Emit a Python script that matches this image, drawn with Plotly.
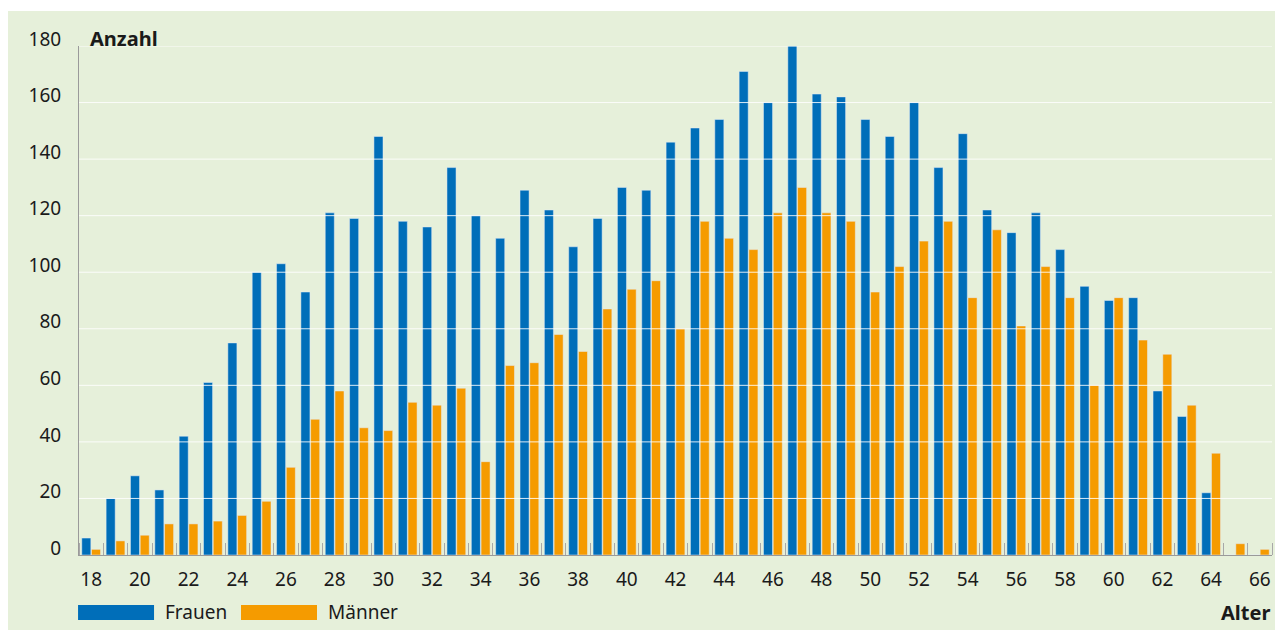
import plotly.graph_objects as go

ages = list(range(18, 67))
frauen = [6, 20, 28, 23, 42, 61, 75, 100, 103, 93, 121, 119, 148, 118, 116, 137, 120,
          112, 129, 122, 109, 119, 130, 129, 146, 151, 154, 171, 160, 180, 163, 162,
          154, 148, 160, 137, 149, 122, 114, 121, 108, 95, 90, 91, 58, 49, 22, 0, 0]
maenner = [2, 5, 7, 11, 11, 12, 14, 19, 31, 48, 58, 45, 44, 54, 53, 59, 33,
           67, 68, 78, 72, 87, 94, 97, 80, 118, 112, 108, 121, 130, 121, 118,
           93, 102, 111, 118, 91, 115, 81, 102, 91, 60, 91, 76, 71, 53, 36, 4, 2]
x_ticks = list(range(18, 67, 2))
y_ticks = list(range(0, 181, 20))

BLUE = "#006EB9"
ORANGE = "#F59B00"
PANEL = "#E6F0DA"
TXT = "#1a1a1a"
FONT = "Noto Sans"

fig = go.Figure()
fig.add_trace(go.Bar(x=ages, y=frauen, name="Frauen", marker_color=BLUE))
fig.add_trace(go.Bar(x=ages, y=maenner, name="Männer", marker_color=ORANGE))

# white grid lines drawn over the bars
for v in y_ticks[1:]:
    fig.add_hline(y=v, line_color="rgba(255,255,255,0.85)", line_width=1, layer="above")

# green panel behind everything
fig.add_shape(type="rect", xref="paper", yref="paper", x0=-0.0595, x1=1.03,
              y0=-0.2, y1=1.0688, fillcolor=PANEL, line_width=0, layer="below")

# legend with wide swatches
legend_items = [("Frauen", BLUE, -0.0008), ("Männer", ORANGE, 0.1358)]
for name, col, x0 in legend_items:
    fig.add_shape(type="rect", xref="paper", yref="paper", x0=x0, x1=x0 + 0.0637,
                  y0=-0.1277, y1=-0.0982, fillcolor=col, line_width=0)
    fig.add_annotation(text=name, xref="paper", yref="paper", x=x0 + 0.0712, y=-0.112,
                       xanchor="left", yanchor="middle", showarrow=False,
                       font=dict(family=FONT, size=19, color=TXT))

fig.add_annotation(text="<b>Anzahl</b>", xref="paper", yref="paper", x=0.0075, y=1.0157,
                   xanchor="left", yanchor="middle", showarrow=False,
                   font=dict(family=FONT, size=20, color=TXT))
fig.add_annotation(text="<b>Alter</b>", xref="paper", yref="paper", x=1.0, y=-0.112,
                   xanchor="right", yanchor="middle", showarrow=False,
                   font=dict(family=FONT, size=20, color=TXT))

fig.update_xaxes(range=[17.5, 66.5], tickvals=x_ticks, ticks="", showgrid=False,
                 showline=True, linecolor="#9a9a9a", linewidth=1, zeroline=False,
                 ticklabelstandoff=7,
                 minor=dict(ticks="inside", tick0=17.5, dtick=1, ticklen=12,
                            tickcolor="#a8a8a8", tickwidth=1, showgrid=False),
                 tickfont=dict(family=FONT, size=19, color=TXT))
fig.update_yaxes(range=[0, 180], tickvals=y_ticks, showgrid=False, zeroline=False,
                 showline=True, linecolor="#9a9a9a", linewidth=1,
                 ticklabelstandoff=13, ticklabelshift=-7,
                 tickfont=dict(family=FONT, size=19, color=TXT))

fig.update_layout(width=1283, height=630, barmode="group", bargap=0.2, bargroupgap=0.07,
                  showlegend=False, paper_bgcolor="white", plot_bgcolor="rgba(0,0,0,0)",
                  margin=dict(l=71, r=19, t=38, b=83))

fig.write_html("out.html")
